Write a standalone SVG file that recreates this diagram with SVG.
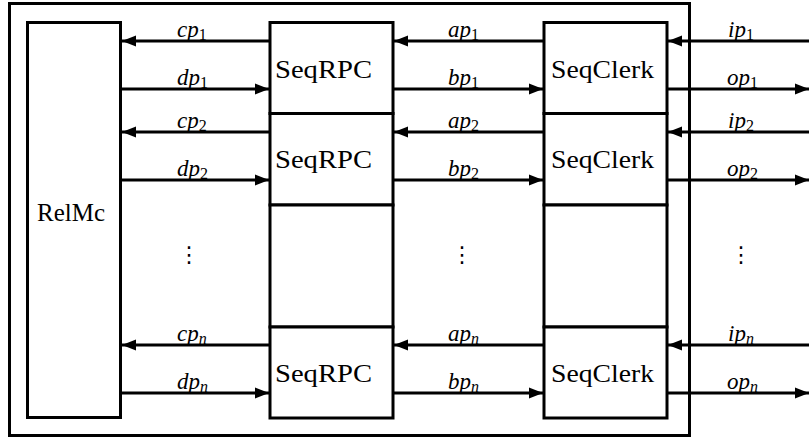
<svg xmlns="http://www.w3.org/2000/svg" width="809" height="440" viewBox="0 0 809 440">
<defs>
<marker id="ah" markerUnits="userSpaceOnUse" markerWidth="15" markerHeight="12" refX="14" refY="6" orient="auto">
<path d="M0,0.5 L14,6 L0,11.5 Z" fill="#000"/>
</marker>
<style>
.box{fill:#fff;stroke:#000;stroke-width:3}
.frame{fill:none;stroke:#000;stroke-width:3}
.arr{stroke:#000;stroke-width:3;fill:none;marker-end:url(#ah)}
.nm{font-size:25px;fill:#000}
.lb{font-size:23px;font-style:italic;fill:#000}
.sb{font-size:16px;font-style:normal}
.sbi{font-size:16px;font-style:italic}
.dots{font-size:22px;fill:#000}
</style>
</defs>
<rect class="frame" x="9.5" y="3.5" width="680" height="432"/>
<g font-family="Liberation Serif, DejaVu Serif, serif">
<g id="relmc"><rect class="box" x="27.5" y="22.5" width="93" height="395"/><text class="nm" x="37" y="221" textLength="68" lengthAdjust="spacingAndGlyphs">RelMc</text></g>
<g id="seqrpc1"><rect class="box" x="270" y="22.5" width="123" height="91"/><text class="nm" x="275" y="78" textLength="97" lengthAdjust="spacingAndGlyphs">SeqRPC</text></g>
<g id="seqrpc2"><rect class="box" x="270" y="113.5" width="123" height="91.5"/><text class="nm" x="275" y="168" textLength="97" lengthAdjust="spacingAndGlyphs">SeqRPC</text></g>
<g id="rpcgap"><rect class="box" x="270" y="205" width="123" height="122"/></g>
<g id="seqrpcn"><rect class="box" x="270" y="327" width="123" height="91"/><text class="nm" x="275" y="382" textLength="97" lengthAdjust="spacingAndGlyphs">SeqRPC</text></g>
<g id="seqclerk1"><rect class="box" x="544" y="22.5" width="123" height="91"/><text class="nm" x="551" y="78" textLength="103" lengthAdjust="spacingAndGlyphs">SeqClerk</text></g>
<g id="seqclerk2"><rect class="box" x="544" y="113.5" width="123" height="91.5"/><text class="nm" x="551" y="168" textLength="103" lengthAdjust="spacingAndGlyphs">SeqClerk</text></g>
<g id="clerkgap"><rect class="box" x="544" y="205" width="123" height="122"/></g>
<g id="seqclerkn"><rect class="box" x="544" y="327" width="123" height="91"/><text class="nm" x="551" y="382" textLength="103" lengthAdjust="spacingAndGlyphs">SeqClerk</text></g>
<g id="connectors">
<line class="arr" x1="270" y1="41" x2="122" y2="41"/>
<line class="arr" x1="122" y1="89" x2="269" y2="89"/>
<line class="arr" x1="270" y1="132" x2="122" y2="132"/>
<line class="arr" x1="122" y1="180" x2="269" y2="180"/>
<line class="arr" x1="270" y1="345" x2="122" y2="345"/>
<line class="arr" x1="122" y1="393" x2="269" y2="393"/>
<line class="arr" x1="544" y1="41" x2="394" y2="41"/>
<line class="arr" x1="394" y1="89" x2="543" y2="89"/>
<line class="arr" x1="544" y1="132" x2="394" y2="132"/>
<line class="arr" x1="394" y1="180" x2="543" y2="180"/>
<line class="arr" x1="544" y1="345" x2="394" y2="345"/>
<line class="arr" x1="394" y1="393" x2="543" y2="393"/>
<line class="arr" x1="809" y1="41" x2="668" y2="41"/>
<line class="arr" x1="668" y1="89" x2="809" y2="89"/>
<line class="arr" x1="809" y1="132" x2="668" y2="132"/>
<line class="arr" x1="668" y1="180" x2="809" y2="180"/>
<line class="arr" x1="809" y1="345" x2="668" y2="345"/>
<line class="arr" x1="668" y1="393" x2="809" y2="393"/>
</g>
<g id="labels">
<text class="lb" x="177" y="37">cp<tspan class="sb" dy="3">1</tspan></text>
<text class="lb" x="177" y="85">dp<tspan class="sb" dy="3">1</tspan></text>
<text class="lb" x="177" y="128">cp<tspan class="sb" dy="3">2</tspan></text>
<text class="lb" x="177" y="176">dp<tspan class="sb" dy="3">2</tspan></text>
<text class="lb" x="177" y="341">cp<tspan class="sbi" dy="3">n</tspan></text>
<text class="lb" x="177" y="389">dp<tspan class="sbi" dy="3">n</tspan></text>
<text class="lb" x="448" y="37">ap<tspan class="sb" dy="3">1</tspan></text>
<text class="lb" x="448" y="85">bp<tspan class="sb" dy="3">1</tspan></text>
<text class="lb" x="448" y="128">ap<tspan class="sb" dy="3">2</tspan></text>
<text class="lb" x="448" y="176">bp<tspan class="sb" dy="3">2</tspan></text>
<text class="lb" x="448" y="341">ap<tspan class="sbi" dy="3">n</tspan></text>
<text class="lb" x="448" y="389">bp<tspan class="sbi" dy="3">n</tspan></text>
<text class="lb" x="728" y="37">ip<tspan class="sb" dy="3">1</tspan></text>
<text class="lb" x="727" y="85">op<tspan class="sb" dy="3">1</tspan></text>
<text class="lb" x="728" y="128">ip<tspan class="sb" dy="3">2</tspan></text>
<text class="lb" x="727" y="176">op<tspan class="sb" dy="3">2</tspan></text>
<text class="lb" x="728" y="341">ip<tspan class="sbi" dy="3">n</tspan></text>
<text class="lb" x="727" y="389">op<tspan class="sbi" dy="3">n</tspan></text>
</g>
<g id="ellipses" font-family="DejaVu Sans, sans-serif">
<text class="dots" x="189" y="262" text-anchor="middle">⋮</text>
<text class="dots" x="462" y="262" text-anchor="middle">⋮</text>
<text class="dots" x="741" y="262" text-anchor="middle">⋮</text>
</g>
</g>
</svg>
